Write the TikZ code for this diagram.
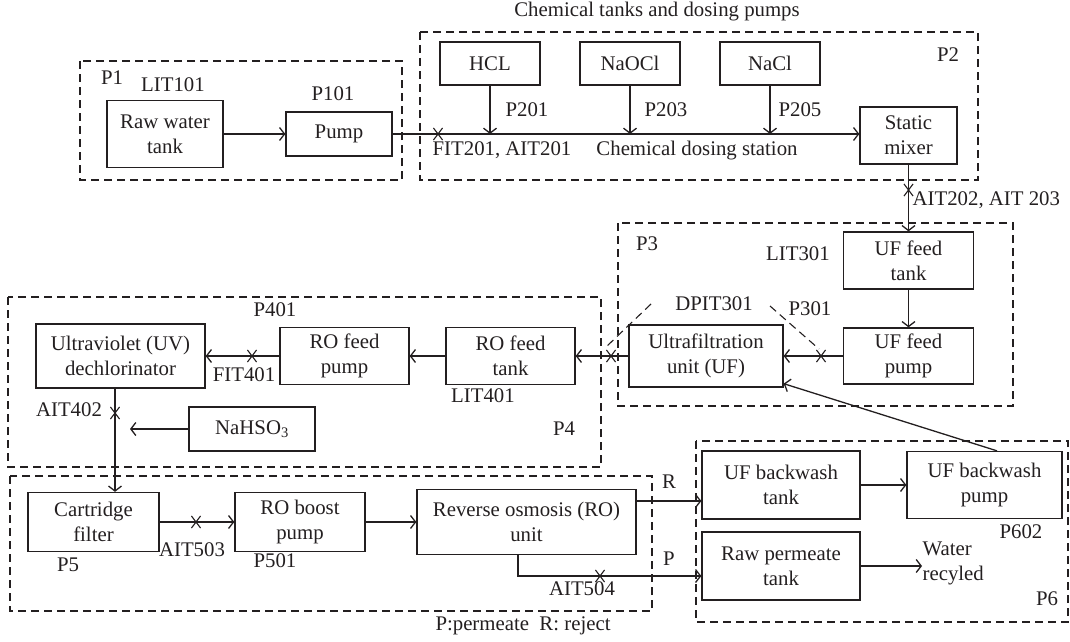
\documentclass[tikz,border=0pt]{standalone}
\usepackage{fontspec}
\setmainfont{Liberation Serif}
\usetikzlibrary{arrows.meta,shapes.misc}
\definecolor{ink}{HTML}{231F20}
\begin{document}
\begin{tikzpicture}[x=1pt,y=-1pt, color=ink, line width=1.3pt,
  font=\fontsize{20.8}{25}\selectfont,
  box/.style={draw, align=center, inner sep=0pt},
  zone/.style={draw, dash pattern=on 8pt off 5pt, line width=1.3pt},
  dpl/.style={dash pattern=on 8pt off 5pt, line width=1.1pt},
  lab/.style={inner sep=0pt, text height=1.43ex, text depth=0pt},
  flow/.style={-{Straight Barb[length=5pt,width=13pt]}},
  xm/.style={cross out, draw, minimum width=8pt, minimum height=11pt, inner sep=0pt, line width=1.1pt},
]
\useasboundingbox (0,0) rectangle (1070,642);

% zones
\draw[zone] (80,61) rectangle (402,180);
\draw[zone] (420,32) rectangle (978,180);
\draw[zone] (618,223) rectangle (1013,406);
\draw[zone] (8,297) rectangle (601,467);
\draw[zone] (10,476) rectangle (652,611);
\draw[zone] (696,441) rectangle (1068,622);

% boxes
\node[box, minimum width=116pt, minimum height=67pt] (rawtank) at (165,134) {Raw water\\tank};
\node[box, minimum width=106pt, minimum height=44pt] (pump) at (339,134) {Pump};
\node[box, minimum width=100pt, minimum height=43pt] (hcl) at (490,63.5) {HCL};
\node[box, minimum width=100pt, minimum height=43pt] (naocl) at (630,63.5) {NaOCl};
\node[box, minimum width=100pt, minimum height=43pt] (nacl) at (770,63.5) {NaCl};
\node[box, minimum width=97pt, minimum height=57pt] (mixer) at (908.5,135.5) {Static\\mixer};
\node[box, minimum width=130pt, minimum height=57pt] (uftank) at (908.5,260.5) {UF feed\\tank};
\node[box, minimum width=130pt, minimum height=56pt] (ufpump) at (908.5,356) {UF feed\\pump};
\node[box, minimum width=154pt, minimum height=62pt] (ufunit) at (706,356) {Ultrafiltration\\unit (UF)};
\node[box, minimum width=129pt, minimum height=57pt] (rotank) at (510.5,356) {RO feed\\tank};
\node[box, minimum width=129pt, minimum height=57pt] (ropump) at (344.5,356) {RO feed\\pump};
\node[box, minimum width=169pt, minimum height=64pt] (uv) at (120.5,356) {Ultraviolet (UV)\\dechlorinator};
\node[box, minimum width=126pt, minimum height=44pt] (nahso) at (252,429) {NaHSO\textsubscript{3}};
\node[box, minimum width=131pt, minimum height=59pt] (cart) at (93.5,522) {Cartridge\\filter};
\node[box, minimum width=130pt, minimum height=59pt] (boost) at (300,522) {RO boost\\pump};
\node[box, minimum width=219pt, minimum height=65pt] (ro) at (526.5,522) {Reverse osmosis (RO)\\unit};
\node[box, minimum width=158pt, minimum height=68pt] (bwtank) at (781,485) {UF backwash\\tank};
\node[box, minimum width=155pt, minimum height=67pt] (bwpump) at (984.5,485) {UF backwash\\pump};
\node[box, minimum width=158pt, minimum height=68pt] (permtank) at (781,566) {Raw permeate\\tank};
\node[inner sep=0pt, anchor=west, align=left] (water) at (922,563) {Water\\recyled};

% labels
\node[lab] (title) at (657,13) {Chemical tanks and dosing pumps};
\node[lab] (lp1) at (112,81) {P1};
\node[lab] (llit101) at (173,88) {LIT101};
\node[lab] (lp101) at (333,97) {P101};
\node[lab] (lp2) at (948,58) {P2};
\node[lab] (lp201) at (527,113) {P201};
\node[lab] (lp203) at (666,113) {P203};
\node[lab] (lp205) at (800,113) {P205};
\node[lab] (lfit201) at (502,152) {FIT201, AIT201};
\node[lab] (lcds) at (697,152) {Chemical dosing station};
\node[lab, anchor=west] (lait202) at (912,202) {AIT202, AIT 203};
\node[lab] (lp3) at (647,247) {P3};
\node[lab] (llit301) at (798,257) {LIT301};
\node[lab] (lp301) at (810,312) {P301};
\node[lab] (ldpit) at (714,307) {DPIT301};
\node[lab] (lp4) at (564,432) {P4};
\node[lab] (lp401) at (275,313) {P401};
\node[lab] (lfit401) at (244,378) {FIT401};
\node[lab] (llit401) at (483,399) {LIT401};
\node[lab] (lait402) at (69,413) {AIT402};
\node[lab] (lp5) at (68,568) {P5};
\node[lab] (lait503) at (192,553) {AIT503};
\node[lab] (lp501) at (275,564) {P501};
\node[lab] (lait504) at (582,592) {AIT504};
\node[lab] (legend) at (523,627) {P:permeate\ \ R: reject};
\node[lab] (lr) at (669,485) {R};
\node[lab] (lp) at (669,562) {P};
\node[lab] (lp6) at (1047,602) {P6};
\node[lab] (lp602) at (1021,535) {P602};

% coordinates
\coordinate (inj) at (130,429);
\coordinate (rY) at (0,501);
\coordinate (pY) at (0,576);
\coordinate (d1a) at (651,304);
\coordinate (d1b) at (606,347);
\coordinate (d2a) at (770,306);
\coordinate (d2b) at (819,349);

% connectors
\draw[flow] (rawtank.east) -- (pump.west);
\draw[flow] (pump.east) -- (pump.east -| mixer.west);
\draw[flow] (hcl.south) -- (hcl.south |- pump.east);
\draw[flow] (naocl.south) -- (naocl.south |- pump.east);
\draw[flow] (nacl.south) -- (nacl.south |- pump.east);
\draw[flow] (mixer.south) -- (uftank.north);
\draw[flow] (uftank.south) -- (ufpump.north);
\draw[flow] (ufpump.west) -- (ufunit.east);
\draw[flow] (ufunit.west) -- (rotank.east);
\draw[flow] (rotank.west) -- (ropump.east);
\draw[flow] (ropump.west) -- (uv.east);
\draw[flow] ([xshift=-5.5pt]uv.south) -- ([xshift=-5.5pt]uv.south |- cart.north);
\draw[flow] (nahso.west) -- (inj);
\draw[flow] (cart.east) -- (boost.west);
\draw[flow] (boost.east) -- (ro.west);
\draw[flow] (ro.east |- rY) -- (bwtank.west |- rY);
\draw[flow] ([xshift=-8.5pt]ro.south) |- (permtank.west |- pY);
\draw[flow] (bwtank.east) -- (bwpump.west);
\draw[flow] (permtank.east) -- (water.west |- permtank.east);
\draw[flow] ([xshift=12.5pt]bwpump.north) -- ([yshift=4pt]ufunit.south east);
\draw[dpl] (d1a) -- (d1b);
\draw[dpl] (d2a) -- (d2b);

% sensor marks
\node[xm] (x201) at (438,134) {};
\node[xm] (x202) at (908.5,190) {};
\node[xm] (x301) at (821,356) {};
\node[xm] (x302) at (611,356) {};
\node[xm] (x401) at (252,356) {};
\node[xm] (x402) at (115,413) {};
\node[xm] (x503) at (196,522) {};
\node[xm] (x504) at (600,576) {};
\end{tikzpicture}
\end{document}
